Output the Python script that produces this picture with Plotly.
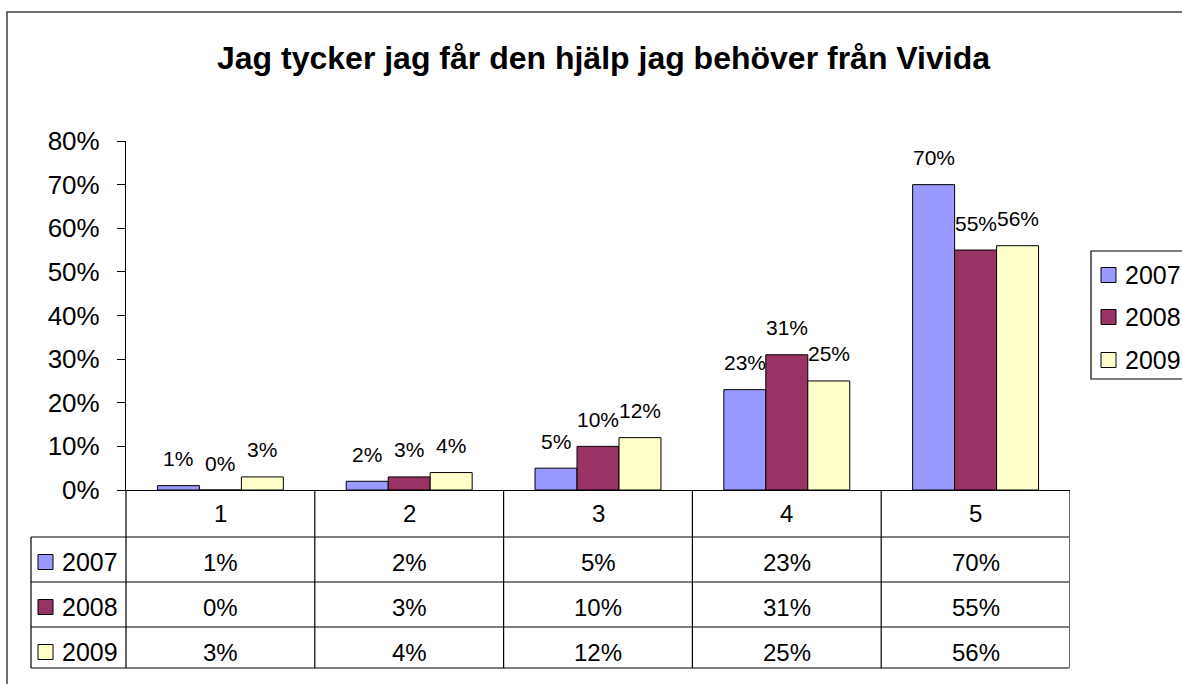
import plotly.graph_objects as go

# ---- data ----
categories = ["1", "2", "3", "4", "5"]
years = ["2007", "2008", "2009"]
values_2007 = [0.01, 0.02, 0.05, 0.23, 0.70]
values_2008 = [0.00, 0.03, 0.10, 0.31, 0.55]
values_2009 = [0.03, 0.04, 0.12, 0.25, 0.56]
series_values = [values_2007, values_2008, values_2009]
colors = ["#9999FF", "#993366", "#FFFFCC"]
title_text = "Jag tycker jag får den hjälp jag behöver från Vivida"

# ---- layout geometry (pixels) ----
W, H = 1182, 684
L, R, T, B = 126, 1070, 141, 490
FONT = "Liberation Sans, Arial, sans-serif"

def px(x):
    return (x - L) / (R - L)

def py(y):
    return (B - y) / (B - T)

BARGAP = 0.333
bar_w = (1 - BARGAP) / 3

fig = go.Figure()
for yr, vals, col in zip(years, series_values, colors):
    fig.add_trace(go.Bar(
        x=categories, y=vals, name=yr,
        marker=dict(color=col, line=dict(color="black", width=1)),
        showlegend=False, hoverinfo="x+y+name",
    ))

shapes = []
annotations = []

# outer chart border
shapes.append(dict(type="rect", xref="paper", yref="paper",
                   x0=px(7), x1=px(1200), y0=py(12), y1=py(700),
                   line=dict(color="#404040", width=1.5)))

line_style = dict(color="black", width=1.2)
# y axis line extension through table
shapes.append(dict(type="line", xref="paper", yref="paper",
                   x0=px(L), x1=px(L), y0=py(490), y1=py(668), line=line_style))
# horizontal table lines
for yy in [537, 582, 627, 668]:
    shapes.append(dict(type="line", xref="paper", yref="paper",
                       x0=px(31), x1=px(1069), y0=py(yy), y1=py(yy), line=line_style))
# legend column left border
shapes.append(dict(type="line", xref="paper", yref="paper",
                   x0=px(31), x1=px(31), y0=py(537), y1=py(668), line=line_style))
# category column separators
for i in range(1, len(categories) + 1):
    shapes.append(dict(type="line", xref="x", yref="paper",
                       x0=i - 0.5, x1=i - 0.5, y0=py(490), y1=py(668), line=line_style))

# category labels in header row
for i, c in enumerate(categories):
    annotations.append(dict(x=i, xref="x", y=py(513), yref="paper", text=c,
                            showarrow=False, font=dict(family=FONT, size=24, color="black"),
                            xanchor="center", yanchor="middle"))

# table rows
row_centers = [562, 607, 652]
for j, (yr, vals, col) in enumerate(zip(years, series_values, colors)):
    yc = row_centers[j]
    shapes.append(dict(type="rect", xref="paper", yref="paper",
                       x0=px(38), x1=px(53), y0=py(yc + 7.5), y1=py(yc - 7.5),
                       fillcolor=col, line=dict(color="black", width=1)))
    annotations.append(dict(x=px(60), xref="paper", y=py(yc), yref="paper", text=yr,
                            showarrow=False, font=dict(family=FONT, size=25, color="black"),
                            xanchor="left", yanchor="middle"))
    for i, v in enumerate(vals):
        annotations.append(dict(x=i, xref="x", y=py(yc), yref="paper",
                                text=f"{round(v*100)}%", showarrow=False,
                                font=dict(family=FONT, size=24, color="black"),
                                xanchor="center", yanchor="middle"))
    # data labels above bars
    for i, v in enumerate(vals):
        annotations.append(dict(x=i + (j - 1) * bar_w, xref="x", y=v, yref="y",
                                text=f"{round(v*100)}%", showarrow=False, yshift=27,
                                font=dict(family=FONT, size=21, color="black"),
                                xanchor="center", yanchor="middle"))

# legend (drawn)
shapes.append(dict(type="rect", xref="paper", yref="paper",
                   x0=px(1091), x1=px(1210), y0=py(251), y1=py(379),
                   line=dict(color="black", width=1.2)))
legend_centers = [275, 317, 360]
for yr, col, yc in zip(years, colors, legend_centers):
    shapes.append(dict(type="rect", xref="paper", yref="paper",
                       x0=px(1101), x1=px(1116), y0=py(yc + 7.5), y1=py(yc - 7.5),
                       fillcolor=col, line=dict(color="black", width=1)))
    annotations.append(dict(x=px(1123), xref="paper", y=py(yc), yref="paper", text=yr,
                            showarrow=False, font=dict(family=FONT, size=25, color="black"),
                            xanchor="left", yanchor="middle"))

# title
annotations.append(dict(x=px(603), xref="paper", y=py(58), yref="paper",
                        text=f"<b>{title_text}</b>", showarrow=False,
                        font=dict(family=FONT, size=32, color="black"),
                        xanchor="center", yanchor="middle"))

fig.update_layout(
    width=W, height=H,
    margin=dict(l=L, r=W - R, t=T, b=H - B, pad=0),
    paper_bgcolor="white", plot_bgcolor="white",
    barmode="group", bargap=BARGAP, bargroupgap=0,
    font=dict(family=FONT, color="black"),
    shapes=shapes, annotations=annotations,
    xaxis=dict(range=[-0.5, 4.5], showticklabels=False, ticks="", showgrid=False,
               showline=True, linecolor="black", linewidth=1.2, zeroline=False,
               fixedrange=True),
    yaxis=dict(range=[0, 0.8], dtick=0.1, tickformat=".0%", showgrid=False,
               ticks="outside", ticklen=8, tickcolor="black", tickwidth=1.2,
               showline=True, linecolor="black", linewidth=1.2, zeroline=False,
               tickfont=dict(family=FONT, size=26, color="black"),
               ticklabelstandoff=12, fixedrange=True),
)

fig.write_html(
    "out.html",
    config={"displayModeBar": False},
    post_script="document.body.style.margin='0';document.body.style.overflow='hidden';",
)
